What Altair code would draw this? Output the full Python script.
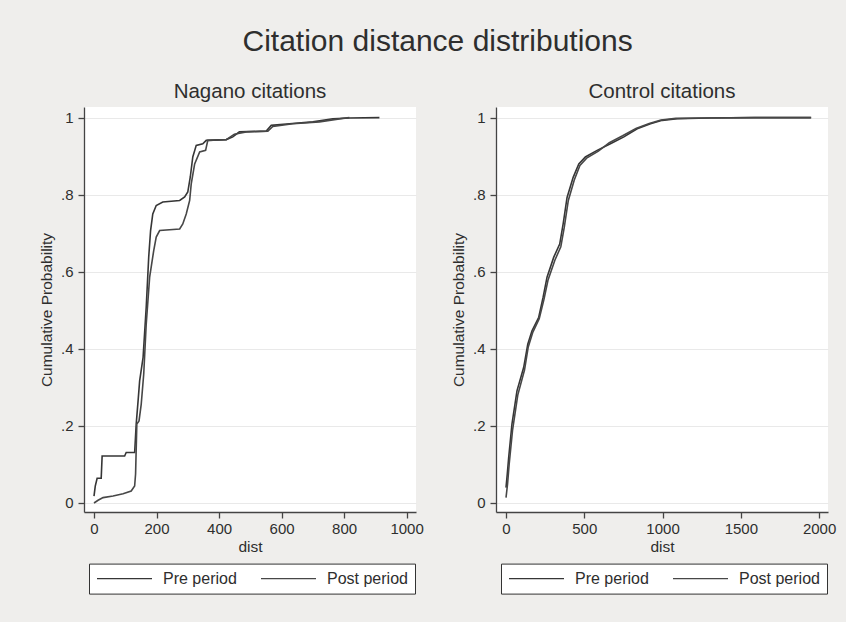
import altair as alt
import pandas as pd

# ---------------- data ----------------
periods = ["Pre period", "Post period"]

nag_pre_dist = [0, 4, 10, 23, 26, 98, 103, 130, 135, 141, 146, 157, 167, 175, 181, 188,
                199, 220, 274, 290, 300, 308, 316, 327, 348, 359, 423, 444, 465, 551,
                567, 625, 700, 764, 817, 913]
nag_pre_cdf = [0.018, 0.044, 0.064, 0.064, 0.122, 0.122, 0.131, 0.131, 0.205, 0.265, 0.317,
               0.378, 0.508, 0.638, 0.707, 0.750, 0.772, 0.781, 0.785, 0.794, 0.807, 0.846,
               0.898, 0.928, 0.932, 0.941, 0.943, 0.950, 0.963, 0.965, 0.980, 0.984, 0.989,
               0.997, 0.999, 1.0]

nag_post_dist = [0, 13, 29, 61, 93, 119, 130, 133, 137, 144, 151, 159, 167, 178, 191, 199,
                 210, 274, 284, 295, 306, 311, 322, 338, 357, 364, 423, 449, 487, 556, 572,
                 636, 721, 796, 817]
nag_post_cdf = [0.0, 0.007, 0.014, 0.018, 0.024, 0.031, 0.044, 0.075, 0.205, 0.213, 0.256,
                0.334, 0.464, 0.586, 0.655, 0.690, 0.707, 0.711, 0.724, 0.750, 0.785, 0.828,
                0.880, 0.911, 0.915, 0.941, 0.943, 0.957, 0.963, 0.965, 0.977, 0.984, 0.989,
                0.998, 1.0]

ctl_pre_dist = [0, 8, 17, 38, 70, 113, 139, 166, 209, 237, 262, 305, 343, 365, 390, 429,
                465, 507, 582, 667, 753, 838, 923, 998, 1094, 1300, 1584, 1947]
ctl_pre_cdf = [0.040, 0.075, 0.118, 0.205, 0.291, 0.352, 0.412, 0.447, 0.482, 0.534, 0.586,
               0.638, 0.672, 0.724, 0.793, 0.845, 0.880, 0.898, 0.915, 0.932, 0.950, 0.971,
               0.984, 0.993, 0.997, 0.999, 1.0, 1.0]

ctl_post_dist = [0, 10, 20, 42, 75, 118, 142, 170, 212, 242, 268, 312, 350, 372, 398, 436,
                 472, 515, 590, 660, 745, 830, 915, 990, 1085, 1250, 1600, 1950]
ctl_post_cdf = [0.014, 0.050, 0.100, 0.190, 0.280, 0.345, 0.405, 0.442, 0.478, 0.528, 0.578,
                0.630, 0.665, 0.715, 0.785, 0.838, 0.876, 0.895, 0.913, 0.935, 0.953, 0.972,
                0.985, 0.994, 0.998, 0.999, 1.0, 1.0]

y_ticks = [0, 0.2, 0.4, 0.6, 0.8, 1]
nag_x_ticks = [0, 200, 400, 600, 800, 1000]
ctl_x_ticks = [0, 500, 1000, 1500, 2000]


def frame(pre_d, pre_c, post_d, post_c):
    rows = []
    for period, ds, cs in ((periods[0], pre_d, pre_c), (periods[1], post_d, post_c)):
        for i, (d, c) in enumerate(zip(ds, cs)):
            rows.append({"dist": d, "cdf": c, "period": period, "idx": i})
    return pd.DataFrame(rows)


FONT = "Liberation Sans"
TXT = "#2e2e2e"
AX = "#444444"

y_label_expr = ("datum.value == 0 ? '0' : datum.value == 1 ? '1' : "
                "'.' + format(datum.value * 10, 'd')")


def panel(df, xdom, xticks, subtitle):
    return alt.Chart(df).mark_line(strokeWidth=1.6).encode(
        x=alt.X("dist:Q",
                scale=alt.Scale(domain=xdom, nice=False, zero=False),
                axis=alt.Axis(values=xticks, title="dist", grid=False, format="d",
                              labelFlush=False, labelOverlap=False,
                              labelPadding=3, titlePadding=3)),
        y=alt.Y("cdf:Q",
                scale=alt.Scale(domain=[-0.0234, 1.0276], nice=False, zero=False),
                axis=alt.Axis(values=y_ticks, labelExpr=y_label_expr,
                              title="Cumulative Probability", grid=True,
                              gridColor="#e9e9e9", gridWidth=1,
                              labelPadding=5, titlePadding=6)),
        color=alt.Color("period:N",
                        scale=alt.Scale(domain=periods, range=["#363636", "#474747"]),
                        legend=alt.Legend(orient="none", legendX=5, legendY=456.6,
                                          direction="horizontal", columns=2, title=None,
                                          symbolType="stroke", symbolSize=3025,
                                          symbolStrokeWidth=1.4, clipHeight=16,
                                          labelFontSize=16, labelFont=FONT,
                                          labelColor=TXT, labelOffset=10,
                                          columnPadding=23, padding=7,
                                          strokeColor="#333333", fillColor="white")),
        order="idx:Q",
    ).properties(
        width=332, height=405,
        title=alt.TitleParams(subtitle, fontSize=20.5, font=FONT, color=TXT,
                              fontWeight="normal", anchor="middle",
                              baseline="bottom", offset=-15),
    )


left = panel(frame(nag_pre_dist, nag_pre_cdf, nag_post_dist, nag_post_cdf),
             [-32, 1030], nag_x_ticks, "Nagano citations")
right = panel(frame(ctl_pre_dist, ctl_pre_cdf, ctl_post_dist, ctl_post_cdf),
              [-64, 2057], ctl_x_ticks, "Control citations")

chart = alt.hconcat(left, right, spacing=27).resolve_scale(
    color="independent"
).resolve_legend(
    color="independent"
).properties(
    title=alt.TitleParams("Citation distance distributions", fontSize=30, font=FONT,
                          color=TXT, fontWeight="normal", anchor="middle",
                          baseline="bottom", offset=-5),
).configure(
    background="#efeeec",
    padding={"left": 39, "top": 26, "right": 10, "bottom": 30},
).configure_view(
    fill="white", stroke=None,
).configure_axis(
    domainColor=AX, domainWidth=1.3, tickColor=AX, tickWidth=1.3, tickSize=6,
    labelFont=FONT, labelFontSize=15, labelColor=TXT,
    titleFont=FONT, titleFontSize=15.5, titleColor=TXT, titleFontWeight="normal",
)

chart.save("out.html", embed_options={"renderer": "svg", "actions": False})
